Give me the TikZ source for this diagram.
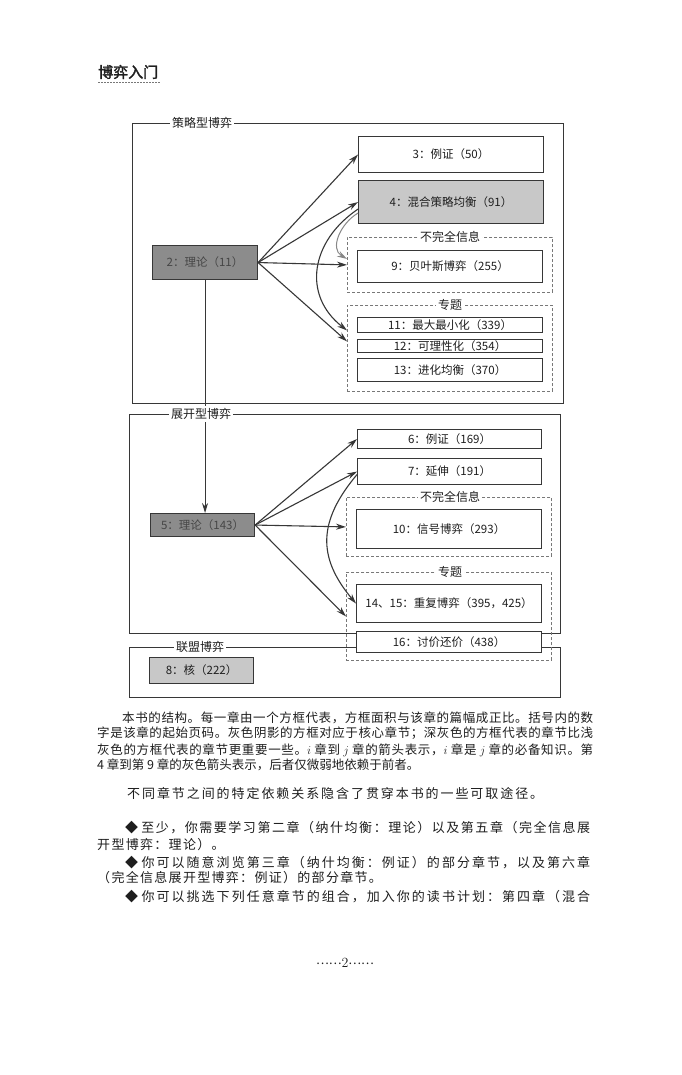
\documentclass[tikz,border=0pt]{standalone}
\usepackage{fontspec}
\usetikzlibrary{arrows.meta}

\newfontfamily\cjk{Noto Sans CJK SC}
\newfontfamily\cjkbf[FakeBold=2]{Noto Sans CJK SC}

% stretchable glue between CJK characters, for justified lines
\newdimen\cjkgap \cjkgap=0pt
\XeTeXinterchartokenstate=1
\newXeTeXintercharclass\cjkcls
\count255="3000
\loop\XeTeXcharclass\count255=\cjkcls \advance\count255 by 1 \ifnum\count255<"A000 \repeat
\count255="FF00
\loop\XeTeXcharclass\count255=\cjkcls \advance\count255 by 1 \ifnum\count255<"FFF0 \repeat
\XeTeXinterchartoks\cjkcls\cjkcls={\hskip\cjkgap plus 2pt minus .5pt\relax}
\newcommand\bodyfont{\cjk\fontsize{13}{15}\selectfont\cjkgap=1.3pt\relax}

\definecolor{linecol}{RGB}{55,55,55}
\definecolor{weakcol}{RGB}{135,135,135}
\definecolor{dashcol}{RGB}{120,120,120}
\definecolor{textcol}{RGB}{30,30,30}
\definecolor{darkbox}{RGB}{140,140,140}
\definecolor{darktext}{RGB}{70,70,70}
\definecolor{lightbox}{RGB}{200,200,200}

\begin{document}
\begin{tikzpicture}[x=1pt, y=-1pt,
        >={Stealth[length=10pt, width=6pt]},
        chap/.style={draw=linecol, line width=1.1pt, fill=white, inner sep=0pt,
                     anchor=north west, text=textcol,
                     font=\cjk\fontsize{11.5}{13}\selectfont},
        core/.style={chap, fill=lightbox},
        keycore/.style={chap, fill=darkbox, text=darktext},
        frame/.style={draw=linecol, line width=1.1pt, inner sep=0pt, anchor=north west},
        group/.style={draw=dashcol, densely dashed, line width=0.8pt, inner sep=0pt,
                      anchor=north west},
        tag/.style={fill=white, inner sep=2pt, text=textcol,
                    font=\cjk\fontsize{12}{13}\selectfont},
        link/.style={->, draw=linecol, line width=1.1pt},
        weak/.style={->, draw=weakcol, line width=1pt},
        capline/.style={anchor=west, inner sep=0pt, text=textcol,
                        font=\cjk\fontsize{12.5}{15}\selectfont},
        bodyline/.style={anchor=west, inner sep=0pt, text=textcol, font=\bodyfont}]
    \useasboundingbox[fill=white] (0,0) rectangle (681,1075);

    % Running head
    \node[anchor=west, inner sep=0pt, text=textcol,
          font=\cjkbf\fontsize{15}{17}\selectfont] (head) at (98,72) {博弈入门};
    \draw[dashcol, line width=0.8pt, dash pattern=on 1.5pt off 1.5pt]
        ([yshift=-3pt]head.south west) -- ([xshift=2pt, yshift=-3pt]head.south east);

    % The three outer frames
    \node[frame, minimum width=431pt, minimum height=280pt] at (132,123) (strat) {};
    \node[frame, minimum width=431pt, minimum height=219pt] at (129,414) (ext) {};
    \node[frame, minimum width=431pt, minimum height=50pt]  at (129,647) (coal) {};

    % Dashed groups
    \node[group, minimum width=205pt, minimum height=55pt] at (347,237) (inc1) {};
    \node[group, minimum width=205pt, minimum height=86pt] at (347,305) (topic1) {};
    \node[group, minimum width=205pt, minimum height=59pt] at (346,497) (inc2) {};
    \node[group, minimum width=205pt, minimum height=88pt] at (346,572) (topic2) {};

    % Strategic-form chapters
    \node[keycore, minimum width=105pt, minimum height=34pt] at (152,245) (ch2) {2：理论（11）};
    \node[chap, minimum width=185pt, minimum height=36pt] at (358,136) (ch3) {3：例证（50）};
    \node[core, minimum width=185pt, minimum height=43pt] at (358,180) (ch4) {4：混合策略均衡（91）};
    \node[chap, minimum width=185pt, minimum height=32pt] at (357,250) (ch9) {9：贝叶斯博弈（255）};
    \node[chap, minimum width=185pt, minimum height=15pt] at (357,317) (ch11) {11：最大最小化（339）};
    \node[chap, minimum width=185pt, minimum height=13pt] at (357,339) (ch12) {12：可理性化（354）};
    \node[chap, minimum width=185pt, minimum height=23pt] at (357,358) (ch13) {13：进化均衡（370）};

    % Extensive-form chapters
    \node[keycore, minimum width=104pt, minimum height=23pt] at (150,513) (ch5) {5：理论（143）};
    \node[chap, minimum width=184pt, minimum height=19pt] at (357,429) (ch6) {6：例证（169）};
    \node[chap, minimum width=184pt, minimum height=26pt] at (357,458) (ch7) {7：延伸（191）};
    \node[chap, minimum width=185pt, minimum height=39pt] at (356,509) (ch10) {10：信号博弈（293）};
    \node[chap, minimum width=185pt, minimum height=38pt] at (356,584) (ch14) {14、15：重复博弈（395，425）};

    % Coalitional chapter
    \node[core, minimum width=104pt, minimum height=26pt] at (149,657) (ch8) {8：核（222）};

    % Dependencies
    \draw[link] (ch2.south) -- (ch2.south |- ch5.north);
    \draw[link] (ch2.east) -- (ch3.west);
    \draw[link] (ch2.east) -- (ch4.west);
    \draw[link] (ch2.east) -- (inc1.west);
    \draw[link] (ch2.east) -- ([yshift=7pt]topic1.west);
    \draw[weak] ([yshift=11pt]ch4.south west) to[out=210, in=150, looseness=1.1] ([yshift=6pt]inc1.west);
    \draw[link] ([yshift=15pt]ch4.south west) to[out=214, in=142, looseness=1.2] ([yshift=18pt]topic1.west);

    \draw[link] (ch5.east) -- (ch6.west);
    \draw[link] (ch5.east) -- (ch7.west);
    \draw[link] (ch5.east) -- (inc2.west);
    \draw[link] (ch5.east) -- (topic2.west);
    \draw[link] ([yshift=-3pt]ch7.west) to[out=230, in=130, looseness=1.2] (ch14.west);

    % Frame and group titles
    \node[tag] at (202,123) {策略型博弈};
    \node[tag] at (201,414) {展开型博弈};
    \node[tag] at (200,647) {联盟博弈};
    \node[tag] at (450,237) {不完全信息};
    \node[tag] at (450,305) {专题};
    \node[tag] at (450,497) {不完全信息};
    \node[tag] at (450,572) {专题};

    % Bargaining sits across the frames
    \node[chap, minimum width=185pt, minimum height=21pt] at (356,631) (ch16) {16：讨价还价（438）};

    % Caption
    \node[capline] (cap1) at (122,718) {\makebox[471pt][s]{本书的结构。每一章由一个方框代表，方框面积与该章的篇幅成正比。括号内的数}};
    \node[capline] (cap2) at (97,733) {\makebox[496pt][s]{字是该章的起始页码。灰色阴影的方框对应于核心章节；深灰色的方框代表的章节比浅}};
    \node[capline] (cap3) at (97,750) {\makebox[496pt][s]{灰色的方框代表的章节更重要一些。$i$ 章到 $j$ 章的箭头表示，$i$ 章是 $j$ 章的必备知识。第}};
    \node[capline] (cap4) at (97,765) {4 章到第 9 章的灰色箭头表示，后者仅微弱地依赖于前者。};

    % Body text
    \node[bodyline] (body0) at (127,793) {\makebox[416pt][s]{不同章节之间的特定依赖关系隐含了贯穿本书的一些可取途径。}};
    \node[bodyline] (body1) at (125,828) {\makebox[465pt][s]{◆ 至少，你需要学习第二章（纳什均衡：理论）以及第五章（完全信息展}};
    \node[bodyline] (body2) at (97,845) {开型博弈：理论）。};
    \node[bodyline] (body3) at (125,863) {\makebox[465pt][s]{◆ 你可以随意浏览第三章（纳什均衡：例证）的部分章节，以及第六章}};
    \node[bodyline] (body4) at (97,878) {（完全信息展开型博弈：例证）的部分章节。};
    \node[bodyline] (body5) at (125,897) {\makebox[465pt][s]{◆ 你可以挑选下列任意章节的组合，加入你的读书计划：第四章（混合}};

    % Folio
    \node[text=textcol, inner sep=0pt, font=\fontsize{14}{16}\selectfont] (folio) at (345,963)
        {\raisebox{3.5pt}{\cjk\fontsize{12}{14}\selectfont ……}2\raisebox{3.5pt}{\cjk\fontsize{12}{14}\selectfont ……}};
\end{tikzpicture}
\end{document}
